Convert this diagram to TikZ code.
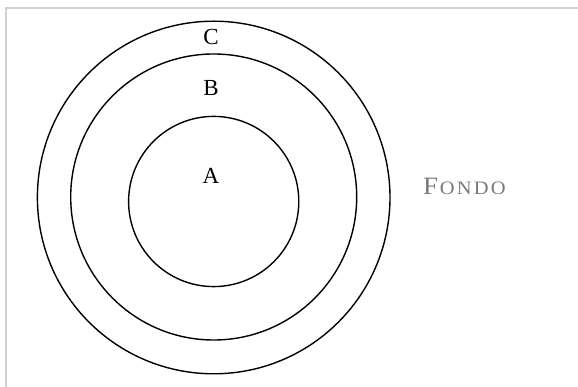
\documentclass[tikz,border=0pt]{standalone}
\usepackage{fontspec}
\setmainfont{Liberation Serif}
\begin{document}
\begin{tikzpicture}[x=1pt,y=1pt,
  ring/.style={draw=black,line width=1.4pt},
  lab/.style={inner sep=0pt,font=\fontsize{23}{27}\selectfont},
  bg/.style={text=black!52,inner sep=0pt,anchor=base west}]
\useasboundingbox (0,0) rectangle (578,387);
\draw[draw=black!18,line width=2pt] (6,0) -- (6,379) -- (578,379);
\node[ring,circle,minimum size=352.6pt,inner sep=0pt] (outer) at (213.7,189.5) {};
\node[ring,circle,minimum size=286pt,inner sep=0pt] (middle) at (213.7,190) {};
\node[ring,circle,minimum size=170.2pt,inner sep=0pt] (inner) at (213.7,185.5) {};
\node[lab] (c) at (211,350) {C};
\node[lab] (b) at (211,299) {B};
\node[lab] (a) at (211,211) {A};
\node[bg] (fondo) at (423,192) {\scalebox{1.08}[1]{{\fontsize{25}{29}\selectfont F}\kern1.5pt{\fontsize{19}{23}\selectfont O\kern2pt N\kern2pt D\kern2pt O}}};
\end{tikzpicture}
\end{document}
